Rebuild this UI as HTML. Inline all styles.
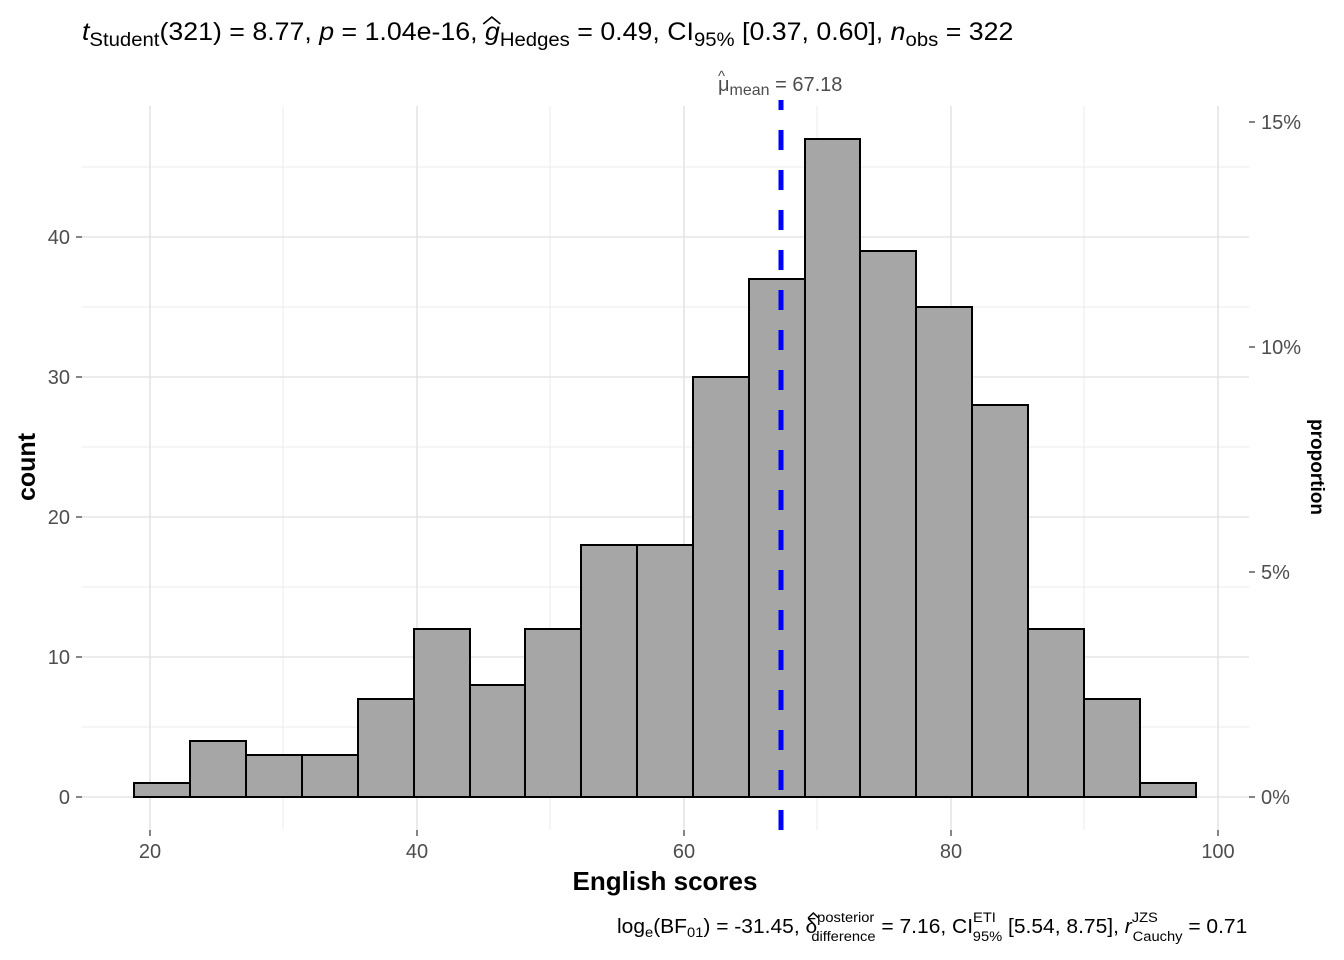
<!DOCTYPE html>
<html><head><meta charset="utf-8"><style>body{margin:0;background:#fff}svg{display:block}text{font-family:"Liberation Sans",sans-serif}</style></head>
<body>
<svg width="1344" height="960" xmlns="http://www.w3.org/2000/svg">
<rect width="1344" height="960" fill="#fff"/>
<g stroke="#ebebeb" stroke-width="1">
<line x1="82" x2="1249" y1="727" y2="727"/><line x1="82" x2="1249" y1="587" y2="587"/><line x1="82" x2="1249" y1="447" y2="447"/><line x1="82" x2="1249" y1="307" y2="307"/><line x1="82" x2="1249" y1="167" y2="167"/>
<line x1="283" x2="283" y1="106" y2="830"/><line x1="550" x2="550" y1="106" y2="830"/><line x1="817" x2="817" y1="106" y2="830"/><line x1="1084" x2="1084" y1="106" y2="830"/>
</g>
<g stroke="#e5e5e5" stroke-width="1.6">
<line x1="82" x2="1249" y1="797" y2="797"/><line x1="82" x2="1249" y1="657" y2="657"/><line x1="82" x2="1249" y1="517" y2="517"/><line x1="82" x2="1249" y1="377" y2="377"/><line x1="82" x2="1249" y1="237" y2="237"/>
<line x1="150" x2="150" y1="106" y2="830"/><line x1="417" x2="417" y1="106" y2="830"/><line x1="684" x2="684" y1="106" y2="830"/><line x1="951" x2="951" y1="106" y2="830"/><line x1="1218" x2="1218" y1="106" y2="830"/>
</g>
<g fill="#a6a6a6" stroke="#000" stroke-width="2">
<rect x="134" y="783" width="56" height="14"/>
<rect x="190" y="741" width="56" height="56"/>
<rect x="246" y="755" width="56" height="42"/>
<rect x="302" y="755" width="56" height="42"/>
<rect x="358" y="699" width="56" height="98"/>
<rect x="414" y="629" width="56" height="168"/>
<rect x="470" y="685" width="55" height="112"/>
<rect x="525" y="629" width="56" height="168"/>
<rect x="581" y="545" width="56" height="252"/>
<rect x="637" y="545" width="56" height="252"/>
<rect x="693" y="377" width="56" height="420"/>
<rect x="749" y="279" width="56" height="518"/>
<rect x="805" y="139" width="55" height="658"/>
<rect x="860" y="251" width="56" height="546"/>
<rect x="916" y="307" width="56" height="490"/>
<rect x="972" y="405" width="56" height="392"/>
<rect x="1028" y="629" width="56" height="168"/>
<rect x="1084" y="699" width="56" height="98"/>
<rect x="1140" y="783" width="56" height="14"/>
</g>
<line x1="781" x2="781" y1="100" y2="830" stroke="#0000ff" stroke-width="5" stroke-dasharray="20 20" stroke-dashoffset="10"/>
<g stroke="#333" stroke-width="1.2">
<line x1="76" x2="82" y1="797" y2="797"/><line x1="76" x2="82" y1="657" y2="657"/><line x1="76" x2="82" y1="517" y2="517"/><line x1="76" x2="82" y1="377" y2="377"/><line x1="76" x2="82" y1="237" y2="237"/>
<line x1="150" x2="150" y1="830" y2="836"/><line x1="417" x2="417" y1="830" y2="836"/><line x1="684" x2="684" y1="830" y2="836"/><line x1="951" x2="951" y1="830" y2="836"/><line x1="1218" x2="1218" y1="830" y2="836"/>
<line x1="1249" x2="1255" y1="797" y2="797"/><line x1="1249" x2="1255" y1="572" y2="572"/><line x1="1249" x2="1255" y1="347" y2="347"/><line x1="1249" x2="1255" y1="122" y2="122"/>
</g>
<g fill="#4d4d4d" font-size="20">
<g text-anchor="end"><text x="70" y="804">0</text><text x="70" y="664">10</text><text x="70" y="524">20</text><text x="70" y="384">30</text><text x="70" y="244">40</text></g>
<g text-anchor="middle"><text x="150" y="858">20</text><text x="417" y="858">40</text><text x="684" y="858">60</text><text x="951" y="858">80</text><text x="1218" y="858">100</text></g>
<text x="1261" y="804">0%</text><text x="1261" y="579">5%</text><text x="1261" y="354">10%</text><text x="1261" y="129">15%</text>
<text x="718" y="91">μ<tspan font-size="16" dy="4">mean</tspan><tspan dy="-4"> = 67.18</tspan></text>
<text x="718" y="81" font-size="15">^</text>
</g>
<text x="665" y="890" text-anchor="middle" font-size="26" font-weight="bold" fill="#000">English scores</text>
<text transform="translate(35,467) rotate(-90)" text-anchor="middle" font-size="25" font-weight="bold" fill="#000">count</text>
<text transform="translate(1311,467) rotate(90)" text-anchor="middle" font-size="19" font-weight="bold" fill="#000">proportion</text>
<g transform="translate(82,0) scale(1.07,1) translate(-82,0)">
<text x="82" y="40" font-size="25" fill="#000"><tspan font-style="italic">t</tspan><tspan font-size="19" dy="6">Student</tspan><tspan dy="-6">(321) = 8.77, </tspan><tspan font-style="italic">p</tspan> = 1.04e-16, <tspan font-style="italic">g</tspan><tspan font-size="19" dy="6">Hedges</tspan><tspan dy="-6"> = 0.49, CI</tspan><tspan font-size="19" dy="6">95%</tspan><tspan dy="-6"> [0.37, 0.60], </tspan><tspan font-style="italic">n</tspan><tspan font-size="19" dy="6">obs</tspan><tspan dy="-6"> = 322</tspan></text>
<path d="M457 24 L465 17 L473 24" fill="none" stroke="#000" stroke-width="1.5"/>
</g>
<g transform="translate(617,0) scale(1.05,1) translate(-617,0)">
<text x="617" y="933" font-size="20" fill="#000">log<tspan font-size="14" dy="4">e</tspan><tspan dy="-4">(BF</tspan><tspan font-size="14" dy="4">01</tspan><tspan dy="-4">) = -31.45, δ</tspan><tspan font-size="14" dy="-11">posterior</tspan><tspan font-size="14" dx="-60" dy="19">difference</tspan><tspan dy="-8"> = 7.16, CI</tspan><tspan font-size="14" dy="-11">ETI</tspan><tspan font-size="14" dx="-22" dy="19">95%</tspan><tspan dy="-8"> [5.54, 8.75], </tspan><tspan font-style="italic">r</tspan><tspan font-size="14" dy="-11">JZS</tspan><tspan font-size="14" dx="-24" dy="19">Cauchy</tspan><tspan dy="-8"> = 0.71</tspan></text>
<path d="M799 918 L804 913 L809 918" fill="none" stroke="#000" stroke-width="1.5"/>
</g>
</svg>
</body></html>
